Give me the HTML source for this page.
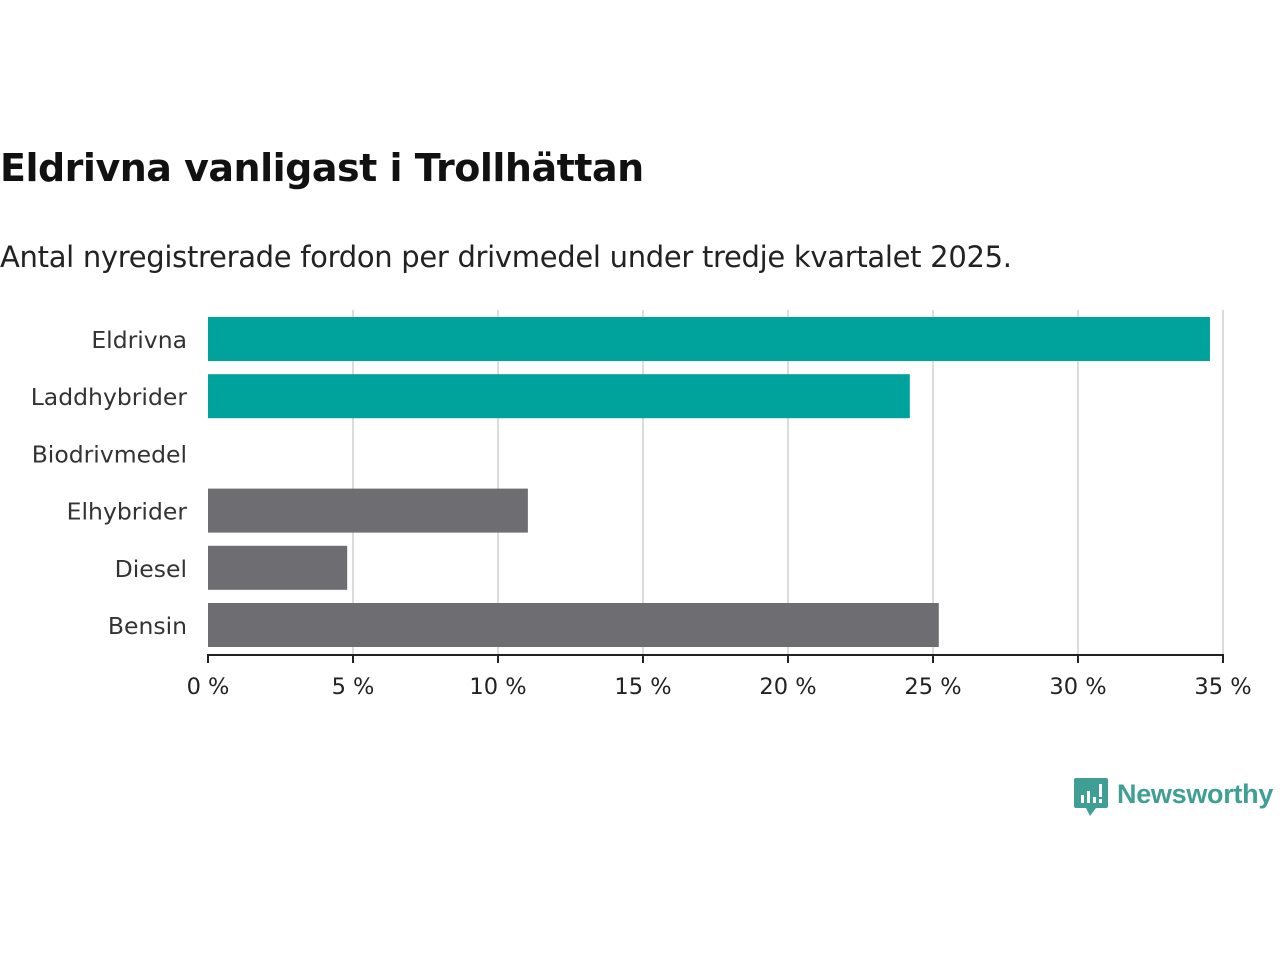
<!DOCTYPE html>
<html><head><meta charset="utf-8"><style>
body{margin:0;background:#fff;width:1280px;height:960px;overflow:hidden;font-family:"DejaVu Sans","Liberation Sans",sans-serif;}
#title{position:absolute;left:0;top:146px;font-size:38px;font-weight:bold;color:#111;margin:0;font-family:"DejaVu Sans","Liberation Sans",sans-serif;letter-spacing:-0.5px}
#sub{position:absolute;left:0;top:240px;font-size:29px;color:#222;letter-spacing:-0.3px}
svg{position:absolute;left:0;top:0}
</style></head><body>
<h1 id="title">Eldrivna vanligast i Trollhättan</h1>
<div id="sub">Antal nyregistrerade fordon per drivmedel under tredje kvartalet 2025.</div>
<svg id="chart" width="1280" height="960"></svg>
<script>
const categories=["Eldrivna","Laddhybrider","Biodrivmedel","Elhybrider","Diesel","Bensin"];
const values=[34.55,24.2,0,11.03,4.8,25.2];
const colors=["#00a39b","#00a39b","#6e6d72","#6e6d72","#6e6d72","#6e6d72"];
const ticks=[0,5,10,15,20,25,30,35];
const tickLabels=["0 %","5 %","10 %","15 %","20 %","25 %","30 %","35 %"];
const NS="http://www.w3.org/2000/svg";
const svgEl=document.getElementById('chart');
const X0=208,X1=1223,PTOP=310,PBOT=655,BAND=57.2,BARH=44;
const xs=v=>X0+(v/35)*(X1-X0);
const ys=i=>PTOP+7+i*BAND;
function mk(t,a){const e=document.createElementNS(NS,t);for(const k in a)e.setAttribute(k,a[k]);svgEl.appendChild(e);return e;}
ticks.forEach((t,i)=>{
 if(i>0){const g=mk('line',{x1:xs(t),x2:xs(t),y1:PTOP,y2:PBOT,stroke:'#dcdcdc','stroke-width':2});
 
 }
 const tk=mk('line',{x1:xs(t),x2:xs(t),y1:PBOT,y2:PBOT+8,stroke:'#222','stroke-width':2});
 
 
 const l=mk('text',{x:xs(t),y:PBOT+39,'text-anchor':'middle','font-size':22.5,fill:'#222'});
 l.textContent=tickLabels[i];
 
 
});
categories.forEach((c,i)=>{
 const r=mk('rect',{x:X0,y:ys(i),width:xs(values[i])-X0,height:BARH,fill:colors[i]});
 
 
 const l=mk('text',{x:187,y:ys(i)+BARH/2+9,'text-anchor':'end','font-size':23.5,fill:'#333'});
 l.textContent=c;
 
 
});
const ax=mk('line',{x1:X0-1,x2:X1+1,y1:PBOT,y2:PBOT,stroke:'#222','stroke-width':2});


</script>
<svg width="1280" height="960" style="pointer-events:none">
<path d="M1076 778h30a2 2 0 0 1 2 2v26a2 2 0 0 1-2 2h-10l-6 8l-4-8h-10a2 2 0 0 1-2-2v-26a2 2 0 0 1 2-2z" fill="#3f9f95"/>
<rect x="1081" y="795" width="3" height="8" fill="#fff"/><rect x="1087" y="791" width="3" height="12" fill="#fff"/><rect x="1093" y="797" width="3" height="6" fill="#fff"/><rect x="1099" y="784" width="3" height="13" fill="#fff"/><rect x="1099" y="799" width="3" height="4" fill="#fff"/>
<text x="1117" y="803" font-size="27" font-family="Liberation Sans, sans-serif" fill="#3f9f95" font-weight="bold" style="letter-spacing:-0.3px">Newsworthy</text>
</svg>
</body></html>
